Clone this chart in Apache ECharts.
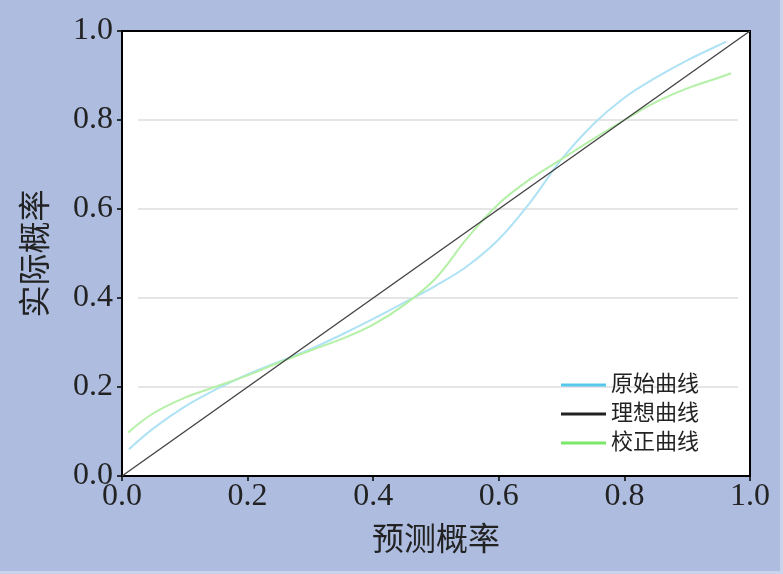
<!DOCTYPE html>
<html><head><meta charset="utf-8">
<script src="https://cdn.jsdelivr.net/npm/echarts@6/dist/echarts.min.js"></script>
<style>html,body{margin:0;padding:0;background:#c9d3ec;}#c{width:780px;height:571px;}</style>
</head><body><div id="c"></div>
<script>
const seriesNames = ['原始曲线', '理想曲线', '校正曲线'];
const originalX = [0.011,0.05,0.10,0.15,0.20,0.25,0.30,0.35,0.40,0.45,0.50,0.55,0.60,0.65,0.70,0.75,0.80,0.85,0.90,0.95,0.962];
const originalY = [0.06,0.107,0.156,0.195,0.228,0.257,0.285,0.318,0.353,0.39,0.428,0.472,0.532,0.615,0.712,0.79,0.85,0.895,0.934,0.968,0.976];
const idealX = [0, 1];
const idealY = [0, 1];
const calibX = [0.01,0.05,0.10,0.15,0.20,0.25,0.30,0.35,0.40,0.45,0.50,0.55,0.60,0.65,0.70,0.75,0.80,0.85,0.90,0.95,0.97];
const calibY = [0.098,0.141,0.176,0.201,0.226,0.255,0.282,0.308,0.34,0.385,0.445,0.535,0.612,0.667,0.712,0.757,0.80,0.84,0.871,0.895,0.905];
const tickLabels = ['0.0','0.2','0.4','0.6','0.8','1.0'];

const zip = (xs, ys) => xs.map((x, i) => [x, ys[i]]);
const serif = '"Liberation Serif", "Noto Sans CJK SC", serif';
const cjk = '"Liberation Serif", "Noto Sans CJK SC", serif';

const chart = echarts.init(document.getElementById('c'));
chart.setOption({
  backgroundColor: '#adbcdf',
  animation: false,
  grid: [
    {left: 122, right: 30, top: 31, bottom: 95, show: true, backgroundColor: '#fff', borderColor: '#000', borderWidth: 2, z: 0},
    {left: 138, right: 42, top: 31, bottom: 95, show: false}
  ],
  xAxis: [
    {gridIndex: 0, type: 'value', min: 0, max: 1, interval: 0.2,
      name: '预测概率', nameLocation: 'middle', nameGap: 50,
      nameTextStyle: {fontFamily: cjk, fontSize: 32, color: '#222'},
      axisLine: {show: true, lineStyle: {color: '#000', width: 2}},
      axisTick: {show: true, length: 5, lineStyle: {color: '#000', width: 1.5}},
      axisLabel: {fontFamily: serif, fontSize: 32, color: '#222', margin: 5,
        formatter: (v) => tickLabels[Math.round(v / 0.2)]},
      splitLine: {show: false}},
    {gridIndex: 1, type: 'value', min: 0, max: 1, show: false}
  ],
  yAxis: [
    {gridIndex: 0, type: 'value', min: 0, max: 1, interval: 0.2,
      name: '实际概率', nameLocation: 'middle', nameGap: 68,
      nameTextStyle: {fontFamily: cjk, fontSize: 32, color: '#222'},
      axisLine: {show: true, lineStyle: {color: '#000', width: 2}},
      axisTick: {show: true, length: 5, lineStyle: {color: '#000', width: 1.5}},
      axisLabel: {fontFamily: serif, fontSize: 32, color: '#222', margin: 9,
        formatter: (v) => tickLabels[Math.round(v / 0.2)]},
      splitLine: {show: false}},
    {gridIndex: 1, type: 'value', min: 0, max: 1, interval: 0.2,
      axisLine: {show: false}, axisTick: {show: false}, axisLabel: {show: false},
      splitLine: {show: true, showMinLine: false, showMaxLine: false, lineStyle: {color: '#dcdcdc', width: 1.5}}}
  ],
  legend: {
    orient: 'vertical', left: 556, top: 369, itemWidth: 45, itemHeight: 14, itemGap: 7,
    icon: 'path://M0,5.5 L45,5.5 L45,8.5 L0,8.5 Z',
    textStyle: {fontFamily: cjk, fontSize: 22, color: '#222'},
    data: [
      {name: seriesNames[0], itemStyle: {color: '#55c8ec'}},
      {name: seriesNames[1], itemStyle: {color: '#222'}},
      {name: seriesNames[2], itemStyle: {color: '#7ae868'}}
    ]
  },
  series: [
    {name: seriesNames[0], type: 'line', xAxisIndex: 0, yAxisIndex: 0, smooth: 0.4, showSymbol: false, z: 3,
      data: zip(originalX, originalY), itemStyle: {color: '#55c8ec'}, lineStyle: {color: '#aee2f4', width: 2}},
    {name: seriesNames[1], type: 'line', xAxisIndex: 0, yAxisIndex: 0, showSymbol: false, z: 4,
      data: zip(idealX, idealY), itemStyle: {color: '#222'}, lineStyle: {color: '#444', width: 1.4}},
    {name: seriesNames[2], type: 'line', xAxisIndex: 0, yAxisIndex: 0, smooth: 0.4, showSymbol: false, z: 3,
      data: zip(calibX, calibY), itemStyle: {color: '#7ae868'}, lineStyle: {color: '#b4f0a6', width: 2}}
  ]
});
</script></body></html>
